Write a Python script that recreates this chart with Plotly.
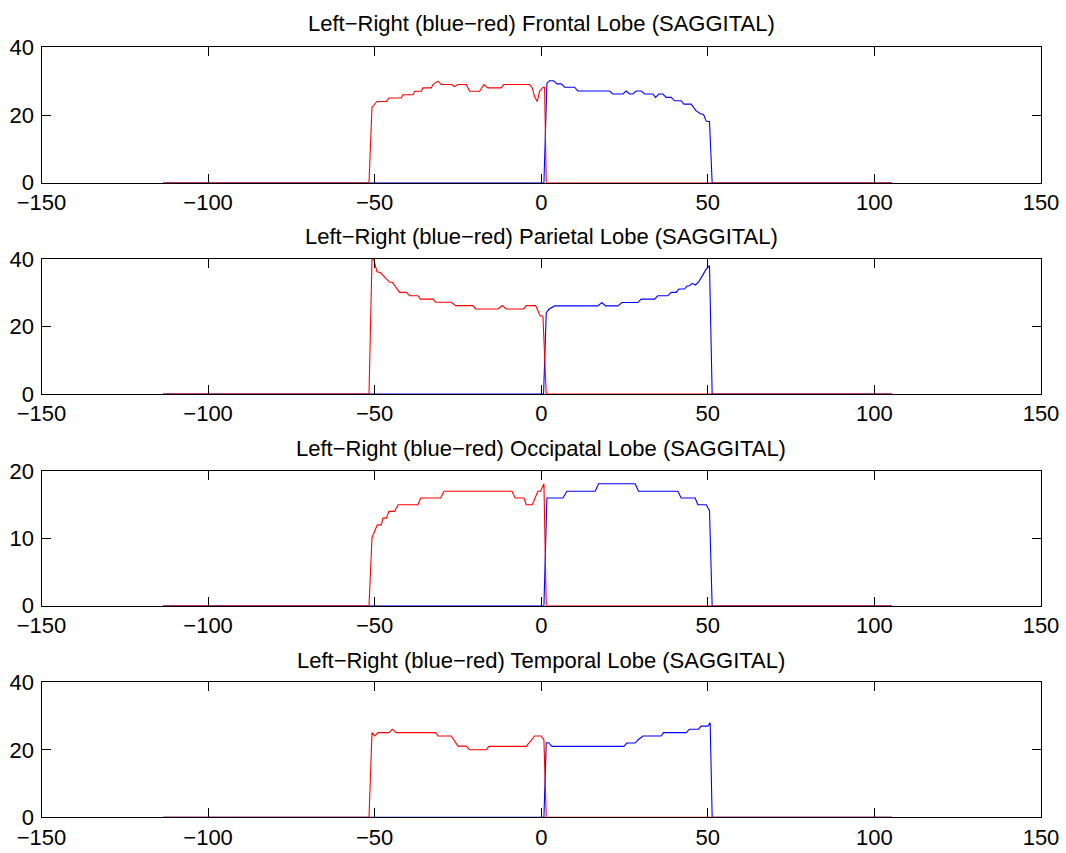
import plotly.graph_objects as go

XMIN, XMAX = -113.5, 105.3

titles = [
    "Left\u2212Right (blue\u2212red) Frontal Lobe (SAGGITAL)",
    "Left\u2212Right (blue\u2212red) Parietal Lobe (SAGGITAL)",
    "Left\u2212Right (blue\u2212red) Occipatal Lobe (SAGGITAL)",
    "Left\u2212Right (blue\u2212red) Temporal Lobe (SAGGITAL)",
]

# ---- Frontal ----
frontal_red_x = [XMIN, -51.7, -50.8, -49.3, -46.5, -45.7, -42, -41.5, -38.5, -38, -36, -35.5, -33, -32.5,
                 -31, -30, -27, -26, -25, -22.5, -21.5, -18.5, -17.2, -16, -12, -11.3, -3.5, -2.7, -2,
                 -1.2, -0.5, 0.5, 1, 1.5, XMAX]
frontal_red_y = [0, 0, 22.3, 24, 24, 25, 25, 26, 26, 27, 27, 28, 28, 29,
                 30, 29, 29, 28.4, 29, 29, 27, 27, 29, 28, 28, 29, 29, 28, 25.4,
                 24, 27, 28.2, 28.2, 0, 0]
frontal_blue_x = [XMIN, 0.8, 1.7, 2.5, 3.7, 4.7, 6, 7, 10, 11, 20.5, 21.5, 24.5, 25.5, 26.5, 27.5, 28.5,
                  30, 31, 33.5, 34.3, 35.3, 36.5, 37.5, 39, 40, 42, 42.8, 45, 46.5, 48, 48.7, 49.5,
                  50.5, 51.3, XMAX]
frontal_blue_y = [0, 0, 29.4, 30.1, 30.1, 29.2, 29.2, 28.2, 28.2, 27.1, 27.1, 26.2, 26.2, 27.1, 26.2, 26.2, 27.1,
                  27.1, 26.2, 26.2, 25.2, 26.2, 26.2, 25.2, 25.2, 24.2, 24.2, 23.2, 23.2, 21.2, 20.2, 20.2, 18.2,
                  18, 0, 0]

# ---- Parietal ----
parietal_red_x = [XMIN, -51.7, -50.8, -50.3, -49.3, -48.3, -45.5, -44.7, -42.5, -40.5, -39.5, -37, -36.3,
                  -32.5, -31.7, -27, -25.7, -20.5, -19.7, -13, -11.7, -10.5, -5.3, -4.5, -1.7, -0.3, 0.5,
                  1.5, XMAX]
parietal_red_y = [0, 0, 40, 40, 36.2, 36, 33.1, 33.1, 30.1, 30.1, 29.1, 29.1, 28.1,
                  28.1, 27.2, 27.2, 26.2, 26.2, 25.2, 25.2, 26.2, 25.2, 25.2, 26.2, 26.2, 23.1, 23.1,
                  0, 0]
parietal_blue_x = [XMIN, 0.7, 1.5, 2.3, 4, 17, 18.2, 19.3, 23, 24.2, 29, 30, 34, 35, 38, 39, 40.5, 41.3,
                   43, 43.7, 44.5, 45.3, 46.3, 47.3, 48.5, 49.5, 50.5, 51.3, XMAX]
parietal_blue_y = [0, 0, 24.1, 25.1, 26.1, 26.1, 27.1, 26.1, 26.1, 27.1, 27.1, 28.1, 28.1, 29.1, 29.1, 30.1,
                   30.1, 31.1, 31.1, 31.9, 32.1, 32.8, 32.3, 33.3, 35.3, 37, 38, 0, 0]

# ---- Occipital ----
occipital_red_x = [XMIN, -51.7, -50.8, -50, -49.2, -48, -47.5, -46.5, -45.7, -44, -43, -37, -36.2, -30.2,
                   -29.2, -8.8, -7.8, -5.2, -4.5, -2.7, -1, -0.2, 0.8, 1.5, XMAX]
occipital_red_y = [0, 0, 10.1, 11, 12, 12, 13, 13, 14, 14, 15, 15, 16, 16,
                   17, 17, 16, 16, 15, 15, 17, 17, 18.1, 0, 0]
occipital_blue_x = [XMIN, 0.8, 1.7, 6.5, 7.7, 16.2, 17.2, 28.2, 29.2, 41, 42, 46.2, 47, 49.5, 50.5, 51.3, XMAX]
occipital_blue_y = [0, 0, 16, 16, 17, 17, 18.1, 18.1, 17, 17, 16, 16, 15, 15, 14.1, 0, 0]

# ---- Temporal ----
temporal_red_x = [XMIN, -51.7, -50.8, -50, -49, -45.7, -44.7, -43.5, -31.7, -31, -27, -25, -22.5, -21.5,
                  -16.5, -15.7, -4.5, -2, 0, 0.8, 1.5, XMAX]
temporal_red_y = [0, 0, 25.1, 24.1, 25.1, 25.1, 26.1, 25.1, 25.1, 24.1, 24.1, 21.1, 21.1, 20,
                  20, 21, 21, 24.1, 24.1, 22.9, 0, 0]
temporal_blue_x = [XMIN, 0.8, 1.5, 2.2, 3.2, 24.8, 25.7, 28.2, 29, 30.5, 36, 36.7, 43.5, 44.5, 47.2, 48,
                   50, 50.7, 51.3, XMAX]
temporal_blue_y = [0, 0, 22.1, 22.1, 21, 21, 22, 22, 22.9, 24.1, 24.1, 25.1, 25.1, 26.1, 26.1, 27,
                   27, 28, 0, 0]

series = [
    (frontal_blue_x, frontal_blue_y, frontal_red_x, frontal_red_y),
    (parietal_blue_x, parietal_blue_y, parietal_red_x, parietal_red_y),
    (occipital_blue_x, occipital_blue_y, occipital_red_x, occipital_red_y),
    (temporal_blue_x, temporal_blue_y, temporal_red_x, temporal_red_y),
]
y_ranges = [[0, 40], [0, 40], [0, 20], [0, 40]]
y_ticks = [[0, 20, 40], [0, 20, 40], [0, 10, 20], [0, 20, 40]]
x_ticks = [-150, -100, -50, 0, 50, 100, 150]

W, H = 1066, 853
x_px = (41.5, 1041.0)
y_px = [(47.3, 182.7), (259.0, 394.0), (471.0, 605.7), (682.3, 817.3)]
title_px = [24, 236, 448, 660]

FONT = "Liberation Sans, Arial, Helvetica, sans-serif"
FS = 22

fig = go.Figure()
layout = dict(
    width=W, height=H,
    margin=dict(l=0, r=0, t=0, b=0),
    paper_bgcolor="white", plot_bgcolor="white",
    showlegend=False,
    font=dict(family=FONT, size=FS, color="black"),
    annotations=[],
)
for i, (bx, by, rx, ry) in enumerate(series):
    n = "" if i == 0 else str(i + 1)
    fig.add_trace(go.Scatter(x=bx, y=by, mode="lines", line=dict(color="#0000ff", width=1.1),
                             xaxis="x" + n, yaxis="y" + n))
    fig.add_trace(go.Scatter(x=rx, y=ry, mode="lines", line=dict(color="#ff0000", width=1.1),
                             xaxis="x" + n, yaxis="y" + n))
    top, bot = y_px[i]
    layout["xaxis" + n] = dict(
        domain=[x_px[0] / W, x_px[1] / W], range=[-150, 150], anchor="y" + n,
        tickvals=x_ticks, ticks="inside", ticklen=9, tickcolor="black", tickwidth=1,
        showline=True, linecolor="black", linewidth=1, mirror="ticks",
        showgrid=False, zeroline=False, automargin=False, ticklabelstandoff=0,
        tickfont=dict(family=FONT, size=FS, color="black"),
    )
    layout["yaxis" + n] = dict(
        domain=[1 - bot / H, 1 - top / H], range=y_ranges[i], anchor="x" + n,
        tickvals=y_ticks[i], ticks="inside", ticklen=9, tickcolor="black", tickwidth=1,
        showline=True, linecolor="black", linewidth=1, mirror="ticks",
        showgrid=False, zeroline=False, automargin=False, ticklabelstandoff=2,
        tickfont=dict(family=FONT, size=FS, color="black"),
    )
    layout["annotations"].append(dict(
        text=titles[i], x=(x_px[0] + x_px[1]) / 2 / W, y=1 - title_px[i] / H,
        xref="paper", yref="paper", xanchor="center", yanchor="middle", showarrow=False,
        font=dict(family=FONT, size=FS, color="black"),
    ))

fig.update_layout(**layout)
fig.write_html("out.html", config={"displayModeBar": False},
               post_script="document.body.style.margin='0px';document.body.style.overflow='hidden';")
